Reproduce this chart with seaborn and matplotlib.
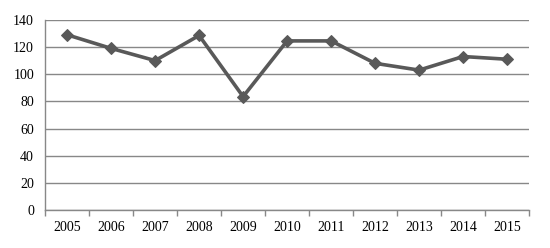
import numpy as np
import pandas as pd
import matplotlib
matplotlib.use("Agg")
import matplotlib.pyplot as plt
from matplotlib.ticker import FixedLocator
import seaborn as sns

# values
years = ['2005', '2006', '2007', '2008', '2009', '2010',
         '2011', '2012', '2013', '2014', '2015']
values = [129, 119, 110, 128.5, 83.5, 124.5, 124.5, 108, 103, 113, 111]
y_ticks = [0, 20, 40, 60, 80, 100, 120, 140]

df = pd.DataFrame({'year': years, 'value': values})

sns.set_style('white')
plt.rcParams['font.family'] = ['Liberation Serif', 'DejaVu Serif']

fig, ax = plt.subplots(figsize=(5.5, 2.48), dpi=100)
fig.subplots_adjust(left=0.082, right=0.962, top=0.92, bottom=0.153)

sns.lineplot(data=df, x='year', y='value', ax=ax, color='#595959',
             linewidth=2.6, marker='D', markersize=6, markeredgecolor='#595959',
             sort=False)

ax.set_xlim(-0.5, len(years) - 0.5)
ax.set_ylim(0, 140)
ax.set_yticks(y_ticks)
ax.yaxis.grid(True, color='#888888', linewidth=1)
ax.set_axisbelow(True)
ax.set_xlabel('')
ax.set_ylabel('')

# tick marks sit between categories
ax.xaxis.set_minor_locator(FixedLocator(np.arange(-0.5, len(years), 1)))
ax.tick_params(axis='x', which='major', length=0, labelsize=10, pad=8, colors='black')
ax.tick_params(axis='x', which='minor', length=4, color='#888888', width=1, bottom=True)
ax.tick_params(axis='y', length=0, labelsize=10, pad=8, colors='black')

for side in ['top', 'right']:
    ax.spines[side].set_visible(False)
for side in ['left', 'bottom']:
    ax.spines[side].set_color('#888888')
    ax.spines[side].set_linewidth(1)

fig.savefig('out.png', dpi=100)
